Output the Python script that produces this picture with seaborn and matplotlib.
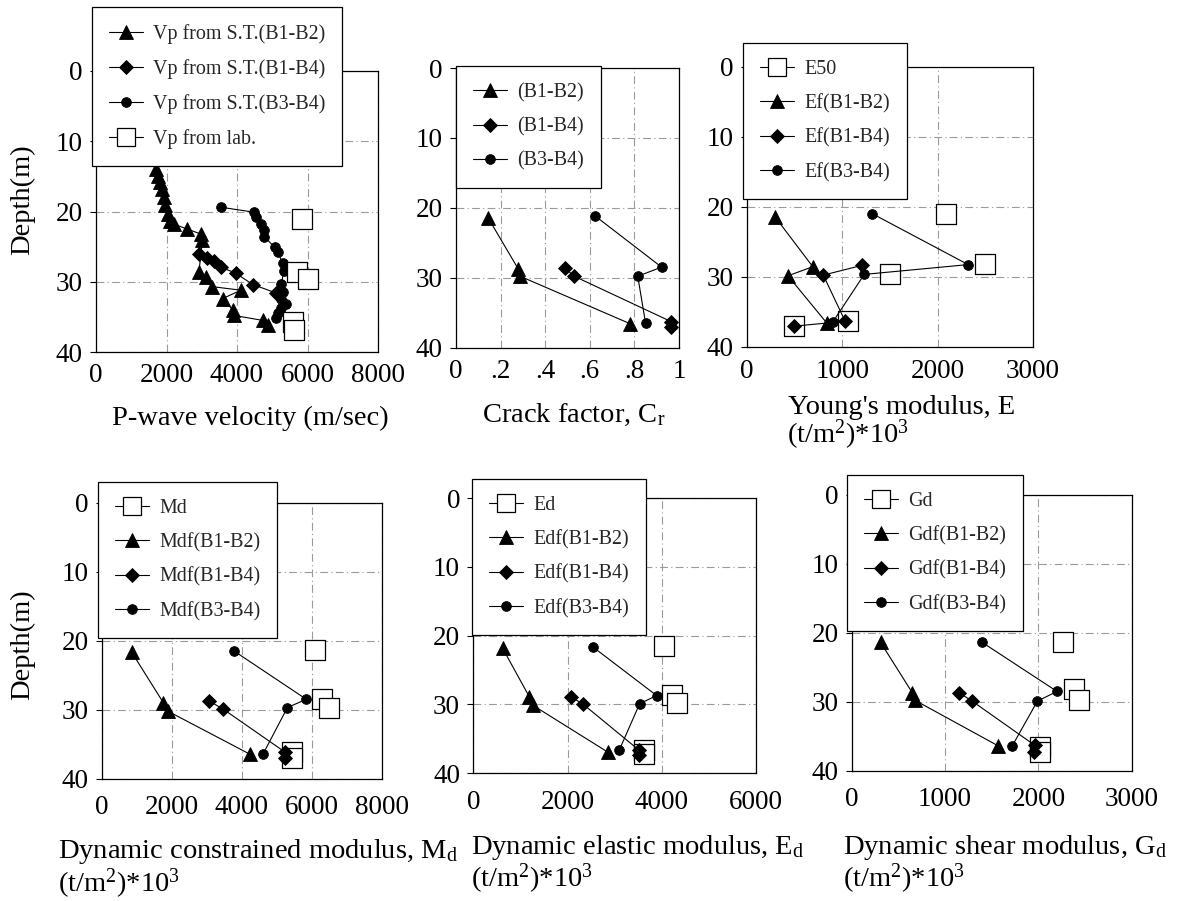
import numpy as np
import pandas as pd
import matplotlib
matplotlib.use("Agg")
import matplotlib.pyplot as plt
import seaborn as sns
from matplotlib.lines import Line2D

# ---------------- data ----------------
# Panel 1: P-wave velocity (m/sec)
vp_b12 = [1690, 1750, 1810, 1860, 1920, 1970, 2040, 2110, 2210, 2590, 2970, 3020,
          2920, 3110, 3300, 4110, 3590, 3880, 3920, 4730, 4880]
vp_b12_depth = [13.9, 14.9, 15.8, 16.8, 18.0, 19.1, 20.3, 21.3, 21.8, 22.5, 23.2, 24.1,
                28.6, 29.3, 30.7, 31.2, 32.4, 34.0, 34.8, 35.5, 36.2]
vp_b14 = [2920, 3140, 3350, 3540, 3970, 4450, 5110]
vp_b14_depth = [26.0, 26.6, 27.0, 27.9, 28.8, 30.4, 31.6]
vp_b34 = [3560, 4480, 4540, 4690, 4760, 4780, 5070, 5160, 5300, 5330, 5260, 5300,
          5260, 5400, 5260, 5160, 5110]
vp_b34_depth = [19.4, 20.1, 20.8, 21.8, 22.7, 23.6, 25.1, 25.8, 27.4, 28.4, 30.3, 31.4,
                32.4, 33.1, 33.8, 34.5, 35.2]
vp_lab = [5830, 5690, 6020, 5590, 5620]
vp_lab_depth = [21.0, 28.6, 29.6, 35.7, 36.9]

# Panel 2: crack factor
cr_b12 = [0.145, 0.278, 0.287, 0.781]
cr_b12_depth = [21.5, 28.7, 29.8, 36.6]
cr_b14 = [0.487, 0.530, 0.965, 0.965]
cr_b14_depth = [28.6, 29.8, 36.3, 37.0]
cr_b34 = [0.625, 0.922, 0.815, 0.850]
cr_b34_depth = [21.2, 28.5, 29.8, 36.5]

# Panel 3: Young's modulus
e50 = [2090, 2500, 1500, 1060, 490]
e50_depth = [21.0, 28.2, 29.6, 36.4, 37.1]
ef_b12 = [295, 690, 430, 840]
ef_b12_depth = [21.5, 28.6, 29.9, 36.7]
ef_b14 = [1210, 800, 1030, 490]
ef_b14_depth = [28.4, 29.8, 36.4, 37.1]
ef_b34 = [1310, 2320, 1230, 900]
ef_b34_depth = [21.0, 28.3, 29.7, 36.5]

# Panel 4: dynamic constrained modulus
md = [6080, 6300, 6500, 5430, 5430]
md_depth = [21.4, 28.4, 29.7, 36.2, 37.0]
mdf_b12 = [860, 1760, 1880, 4240]
mdf_b12_depth = [21.7, 29.0, 30.2, 36.5]
mdf_b14 = [3050, 3460, 5240, 5240]
mdf_b14_depth = [28.7, 29.9, 36.2, 37.0]
mdf_b34 = [3780, 5840, 5300, 4600]
mdf_b34_depth = [21.5, 28.5, 29.7, 36.5]

# Panel 5: dynamic elastic modulus
ed = [4040, 4210, 4330, 3630, 3630]
ed_depth = [21.5, 28.6, 29.8, 36.6, 37.2]
edf_b12 = [620, 1190, 1260, 2850]
edf_b12_depth = [21.8, 28.9, 30.1, 36.9]
edf_b14 = [2070, 2320, 3510, 3510]
edf_b14_depth = [28.9, 29.9, 36.6, 37.3]
edf_b34 = [2530, 3890, 3530, 3100]
edf_b34_depth = [21.6, 28.7, 29.9, 36.6]

# Panel 6: dynamic shear modulus
gd = [2260, 2380, 2440, 2020, 2020]
gd_depth = [21.4, 28.2, 29.7, 36.5, 37.3]
gdf_b12 = [310, 650, 680, 1570]
gdf_b12_depth = [21.4, 28.7, 29.8, 36.4]
gdf_b14 = [1150, 1290, 1960, 1950]
gdf_b14_depth = [28.7, 29.9, 36.3, 37.3]
gdf_b34 = [1400, 2200, 1990, 1720]
gdf_b34_depth = [21.4, 28.5, 29.9, 36.4]

depth_ticks = [0, 10, 20, 30, 40]

# ---------------- style ----------------
sns.set_theme(style="white")
plt.rcParams["font.family"] = ["Liberation Serif", "DejaVu Serif"]
plt.rcParams["mathtext.fontset"] = "custom"
plt.rcParams["mathtext.rm"] = "Liberation Serif"
plt.rcParams["mathtext.it"] = "Liberation Serif:italic"
plt.rcParams["mathtext.bf"] = "Liberation Serif:bold"

W, H = 1177, 901
fig = plt.figure(figsize=(W / 100, H / 100), dpi=100)
fig.patch.set_facecolor("white")

TICK_FS = 19.5
LABEL_FS = 20.5
LEG_FS = 14.4
MS = {"^": 9.6, "D": 7.4, "o": 7.0}
SQ_MS = 14.0
GRID_LS = (0, (7, 3, 1, 3))


def fx(px):
    return px / W


def fy(py):
    return 1 - py / H


def add_ax(l, r, t, b):
    return fig.add_axes([l / W, 1 - b / H, (r - l) / W, (b - t) / H])


def draw_series(ax, x, y, marker):
    sns.lineplot(x=x, y=y, sort=False, estimator=None, ax=ax, color="black",
                 linewidth=0.8, marker=marker, markersize=MS[marker],
                 markerfacecolor="black", markeredgecolor="black",
                 markeredgewidth=0.6, legend=False, zorder=2)


def draw_squares(ax, x, y, z):
    sns.scatterplot(x=x, y=y, marker="s", s=SQ_MS ** 2, color="white",
                    edgecolor="black", linewidth=0.9, ax=ax, legend=False,
                    zorder=z)


def setup(ax, xmax, xticks, xlabels, pad):
    ax.set_xlim(0, xmax)
    ax.set_ylim(40, 0)
    ax.set_xticks(xticks)
    ax.set_xticklabels(xlabels)
    ax.set_yticks(depth_ticks)
    ax.set_yticklabels([str(t) for t in depth_ticks])
    ax.tick_params(axis="x", length=0, pad=pad, labelsize=TICK_FS, colors="black")
    ax.tick_params(axis="y", left=True, length=4, width=0.8, direction="out",
                   pad=5.5, labelsize=TICK_FS, colors="black")
    ax.grid(True, color="#9a9a9a", linestyle=GRID_LS, linewidth=0.8)
    ax.set_axisbelow(True)
    ax.set_xlabel("")
    ax.set_ylabel("")
    ax.set_facecolor("white")
    for sp in ax.spines.values():
        sp.set_visible(True)
        sp.set_color("black")
        sp.set_linewidth(0.9)


def handle(marker):
    if marker == "s":
        return Line2D([], [], color="black", lw=0.8, marker="s", ms=SQ_MS - 1.5,
                      mfc="white", mec="black", mew=0.9)
    return Line2D([], [], color="black", lw=0.8, marker=marker, ms=MS[marker],
                  mfc="black", mec="black", mew=0.6)


def legend(ax, items, x0, y0):
    hs = [handle(m) for m, _ in items]
    ls = [t for _, t in items]
    lg = ax.legend(hs, ls, loc="upper left", bbox_to_anchor=(fx(x0), fy(y0)),
                   bbox_transform=fig.transFigure, borderaxespad=0,
                   fontsize=LEG_FS, frameon=True, fancybox=False, shadow=False,
                   framealpha=1, edgecolor="black", facecolor="white",
                   borderpad=0.85, labelspacing=0.75, handlelength=1.7,
                   handletextpad=0.5, numpoints=1)
    lg.get_frame().set_linewidth(0.9)
    lg.set_zorder(10)
    return lg


def text(x, y, s, **kw):
    fig.text(fx(x), fy(y), s, ha="left", va="baseline", fontsize=LABEL_FS,
             color="black", **kw)


# ---------------- Panel 1 ----------------
ax1 = add_ax(96, 378, 71, 352)
draw_series(ax1, vp_b12, vp_b12_depth, "^")
draw_series(ax1, vp_b14, vp_b14_depth, "D")
draw_series(ax1, vp_b34, vp_b34_depth, "o")
draw_squares(ax1, vp_lab, vp_lab_depth, 3)
setup(ax1, 8000, [0, 2000, 4000, 6000, 8000], ["0", "2000", "4000", "6000", "8000"], 8)
legend(ax1, [("^", "Vp from S.T.(B1-B2)"), ("D", "Vp from S.T.(B1-B4)"),
             ("o", "Vp from S.T.(B3-B4)"), ("s", "Vp from lab.")], 92, 7)
text(111.7, 425, "P-wave velocity (m/sec)")

# ---------------- Panel 2 ----------------
ax2 = add_ax(456, 679, 68, 347.5)
draw_series(ax2, cr_b12, cr_b12_depth, "^")
draw_series(ax2, cr_b14, cr_b14_depth, "D")
draw_series(ax2, cr_b34, cr_b34_depth, "o")
setup(ax2, 1.0, [0, 0.2, 0.4, 0.6, 0.8, 1.0], ["0", ".2", ".4", ".6", ".8", "1"], 8)
legend(ax2, [("^", "(B1-B2)"), ("D", "(B1-B4)"), ("o", "(B3-B4)")], 456.4, 66)
text(481.7, 422, r"Crack factor, C$_{\mathrm{r}}$")

# ---------------- Panel 3 ----------------
ax3 = add_ax(747, 1033, 66.5, 346.5)
draw_squares(ax3, e50, e50_depth, 1.5)
draw_series(ax3, ef_b12, ef_b12_depth, "^")
draw_series(ax3, ef_b14, ef_b14_depth, "D")
draw_series(ax3, ef_b34, ef_b34_depth, "o")
setup(ax3, 3000, [0, 1000, 2000, 3000], ["0", "1000", "2000", "3000"], 9)
legend(ax3, [("s", "E50"), ("^", "Ef(B1-B2)"), ("D", "Ef(B1-B4)"),
             ("o", "Ef(B3-B4)")], 743, 43)
text(788, 414, "Young's modulus, E")
text(787, 443, r"(t/m$^{2}$)*10$^{3}$")

# ---------------- Panel 4 ----------------
ax4 = add_ax(101.7, 382, 503, 778.5)
draw_squares(ax4, md, md_depth, 1.5)
draw_series(ax4, mdf_b12, mdf_b12_depth, "^")
draw_series(ax4, mdf_b14, mdf_b14_depth, "D")
draw_series(ax4, mdf_b34, mdf_b34_depth, "o")
setup(ax4, 8000, [0, 2000, 4000, 6000, 8000], ["0", "2000", "4000", "6000", "8000"], 12)
legend(ax4, [("s", "Md"), ("^", "Mdf(B1-B2)"), ("D", "Mdf(B1-B4)"),
             ("o", "Mdf(B3-B4)")], 98, 482)
text(58.3, 858, r"Dynamic constrained modulus, M$_{\mathrm{d}}$")
text(58.3, 892, r"(t/m$^{2}$)*10$^{3}$")

# ---------------- Panel 5 ----------------
ax5 = add_ax(473.3, 756, 498, 773.3)
draw_squares(ax5, ed, ed_depth, 1.5)
draw_series(ax5, edf_b12, edf_b12_depth, "^")
draw_series(ax5, edf_b14, edf_b14_depth, "D")
draw_series(ax5, edf_b34, edf_b34_depth, "o")
setup(ax5, 6000, [0, 2000, 4000, 6000], ["0", "2000", "4000", "6000"], 12)
legend(ax5, [("s", "Ed"), ("^", "Edf(B1-B2)"), ("D", "Edf(B1-B4)"),
             ("o", "Edf(B3-B4)")], 472, 479)
text(470.7, 854, r"Dynamic elastic modulus, E$_{\mathrm{d}}$")
text(470.7, 887, r"(t/m$^{2}$)*10$^{3}$")

# ---------------- Panel 6 ----------------
ax6 = add_ax(851.7, 1131.7, 495, 770.7)
draw_squares(ax6, gd, gd_depth, 1.5)
draw_series(ax6, gdf_b12, gdf_b12_depth, "^")
draw_series(ax6, gdf_b14, gdf_b14_depth, "D")
draw_series(ax6, gdf_b34, gdf_b34_depth, "o")
setup(ax6, 3000, [0, 1000, 2000, 3000], ["0", "1000", "2000", "3000"], 12)
legend(ax6, [("s", "Gd"), ("^", "Gdf(B1-B2)"), ("D", "Gdf(B1-B4)"),
             ("o", "Gdf(B3-B4)")], 847, 475)
text(843.3, 854, r"Dynamic shear modulus, G$_{\mathrm{d}}$")
text(843.3, 887, r"(t/m$^{2}$)*10$^{3}$")

# Depth labels
fig.text(fx(23), fy(200), "Depth(m)", rotation=90, ha="center", va="center",
         fontsize=LABEL_FS, color="black")
fig.text(fx(23), fy(645), "Depth(m)", rotation=90, ha="center", va="center",
         fontsize=LABEL_FS, color="black")

fig.savefig("out.png", dpi=100, facecolor="white")
